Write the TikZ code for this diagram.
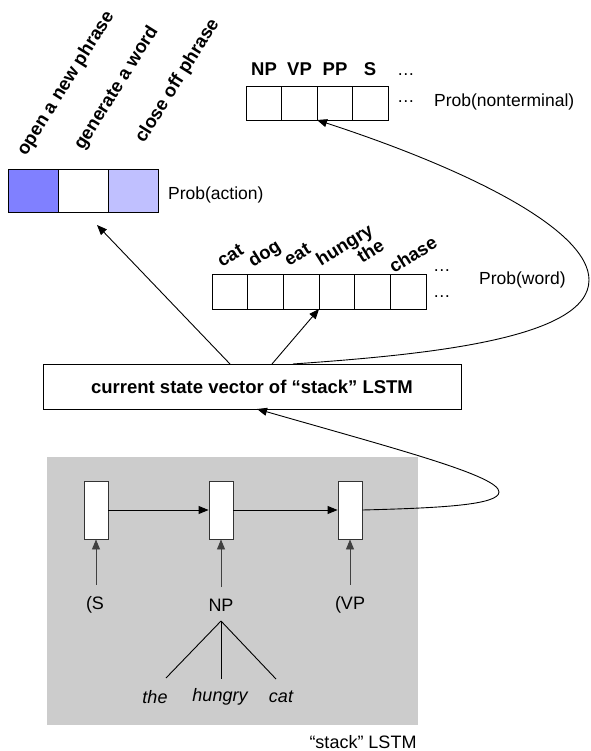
\documentclass[tikz,border=0pt]{standalone}
\usepackage{fontspec}
\setmainfont{Liberation Sans}
\usetikzlibrary{arrows.meta}
\definecolor{actA}{HTML}{8080FF}
\definecolor{actC}{HTML}{C0C0FF}
\definecolor{boxgray}{HTML}{CCCCCC}
\begin{document}
\begin{tikzpicture}[x=1pt,y=-1pt,
  cell/.style={draw, line width=0.9pt, inner sep=0pt, outer sep=0pt, anchor=north west},
  lcell/.style={draw=black!80, fill=white, line width=0.9pt, inner sep=0pt, minimum width=24pt, minimum height=58pt},
  bl/.style={font=\fontsize{18.5}{20}\selectfont\bfseries, inner sep=0pt},
  rl/.style={font=\fontsize{17.5}{20}\selectfont, inner sep=0pt},
  tl/.style={font=\fontsize{18}{20}\selectfont, inner sep=0pt},
  il/.style={font=\fontsize{18}{20}\selectfont\itshape, inner sep=0pt},
  arr/.style={-{Triangle[length=10pt,width=8pt]}, line width=0.9pt},
  line/.style={line width=0.9pt},
]
\useasboundingbox (0,0) rectangle (590,751);

% stack LSTM background
\node[fill=boxgray, minimum width=371pt, minimum height=268pt, anchor=north west, inner sep=0pt] (stackbg) at (47,457) {};

% action distribution
\node[cell, fill=actA, minimum width=50pt, minimum height=43pt] (a1) at (8,169) {};
\node[cell, minimum width=50pt, minimum height=43pt] (a2) at (58,169) {};
\node[cell, fill=actC, minimum width=50pt, minimum height=43pt] (a3) at (108,169) {};
\node[bl, rotate=58, anchor=base west] (la1) at (26,157) {open a new phrase};
\node[bl, rotate=58, anchor=base west] (la2) at (83,151) {generate a word};
\node[bl, rotate=58, anchor=base west] (la3) at (144,144) {close off phrase};
\node[rl, anchor=west] (pa) at (168,195) {Prob(action)};

% nonterminal distribution
\node[cell, minimum width=35.5pt, minimum height=34pt] (n1) at (246,86) {};
\node[cell, minimum width=35.5pt, minimum height=34pt] (n2) at (281.5,86) {};
\node[cell, minimum width=35.5pt, minimum height=34pt] (n3) at (317,86) {};
\node[cell, minimum width=35.5pt, minimum height=34pt] (n4) at (352.5,86) {};
\node[bl, anchor=base] (tn1) at (264,76) {NP};
\node[bl, anchor=base] (tn2) at (299.5,76) {VP};
\node[bl, anchor=base] (tn3) at (335,76) {PP};
\node[bl, anchor=base] (tn4) at (370,76) {S};
\node[rl, anchor=base west] (dn1) at (397,76) {…};
\node[rl, anchor=base west] (dn2) at (397,103) {…};
\node[rl, anchor=west] (pn) at (434,102) {Prob(nonterminal)};

% word distribution
\node[cell, minimum width=35.67pt, minimum height=35pt] (w1) at (212,274) {};
\node[cell, minimum width=35.67pt, minimum height=35pt] (w2) at (247.67,274) {};
\node[cell, minimum width=35.67pt, minimum height=35pt] (w3) at (283.33,274) {};
\node[cell, minimum width=35.67pt, minimum height=35pt] (w4) at (319,274) {};
\node[cell, minimum width=35.67pt, minimum height=35pt] (w5) at (354.67,274) {};
\node[cell, minimum width=35.67pt, minimum height=35pt] (w6) at (390.33,274) {};
\node[bl, rotate=32, anchor=base west] (tw1) at (222,268) {cat};
\node[bl, rotate=32, anchor=base west] (tw2) at (253,268) {dog};
\node[bl, rotate=32, anchor=base west] (tw3) at (289,267) {eat};
\node[bl, rotate=32, anchor=base west] (tw4) at (321,267) {hungry};
\node[bl, rotate=32, anchor=base west] (tw5) at (362,264) {the};
\node[bl, rotate=32, anchor=base west] (tw6) at (394,274) {chase};
\node[rl, anchor=base west] (dw1) at (433,271) {…};
\node[rl, anchor=base west] (dw2) at (433,297) {…};
\node[rl, anchor=west] (pw) at (479,280) {Prob(word)};

% current state
\node[draw, line width=0.9pt, bl, minimum width=418pt, minimum height=45pt] (state) at (252,386.5) {current state vector of “stack” LSTM};

% stack LSTM cells
\node[lcell] (c1) at (96,510) {};
\node[lcell] (c2) at (221,510) {};
\node[lcell] (c3) at (350,510) {};
\node[tl] (ls) at (95,605) {(S};
\node[tl] (ln) at (221,605) {NP};
\node[tl] (lv) at (350,605) {(VP};
\draw[arr, draw=black!75, shorten <=11.5pt] (c1.south |- ls.north) -- (c1.south);
\draw[arr, draw=black!75, shorten <=11.5pt] (c2.south |- ln.north) -- (c2.south);
\draw[arr, draw=black!75, shorten <=11.5pt] (c3.south |- lv.north) -- (c3.south);
\draw[arr] (c1.east) -- (c2.west);
\draw[arr] (c2.east) -- (c3.west);

% tree
\coordinate (root) at (221,621);
\coordinate (t1) at (166,678);
\coordinate (t2) at (221,679);
\coordinate (t3) at (276,679);
\draw[line] (root) -- (t1);
\draw[line] (root) -- (t2);
\draw[line] (root) -- (t3);
\node[il] (lthe) at (155,697) {the};
\node[il] (lhun) at (220,697) {hungry};
\node[il] (lcat) at (281,697) {cat};
\node[tl, anchor=base] (cap) at (363,748) {“stack” LSTM};

% connectors from state
\coordinate (s1) at (230,364);
\coordinate (s2) at (272,364);
\coordinate (s3) at (293,364);
\coordinate (atip) at (97,225);
\coordinate (lt) at (257,409);
\draw[arr] (s1) -- (atip);
\draw[arr] (s2) -- (w3.south east);
\draw[arr] (s3) .. controls (420,355) and (589,340) .. (589,280)
  .. controls (589,230) and (470,170) .. (n3.south west);
\draw[arr] (c3.east) .. controls (440,508) and (499,505) .. (499,492)
  .. controls (499,476) and (400,450) .. (lt);
\end{tikzpicture}
\end{document}
